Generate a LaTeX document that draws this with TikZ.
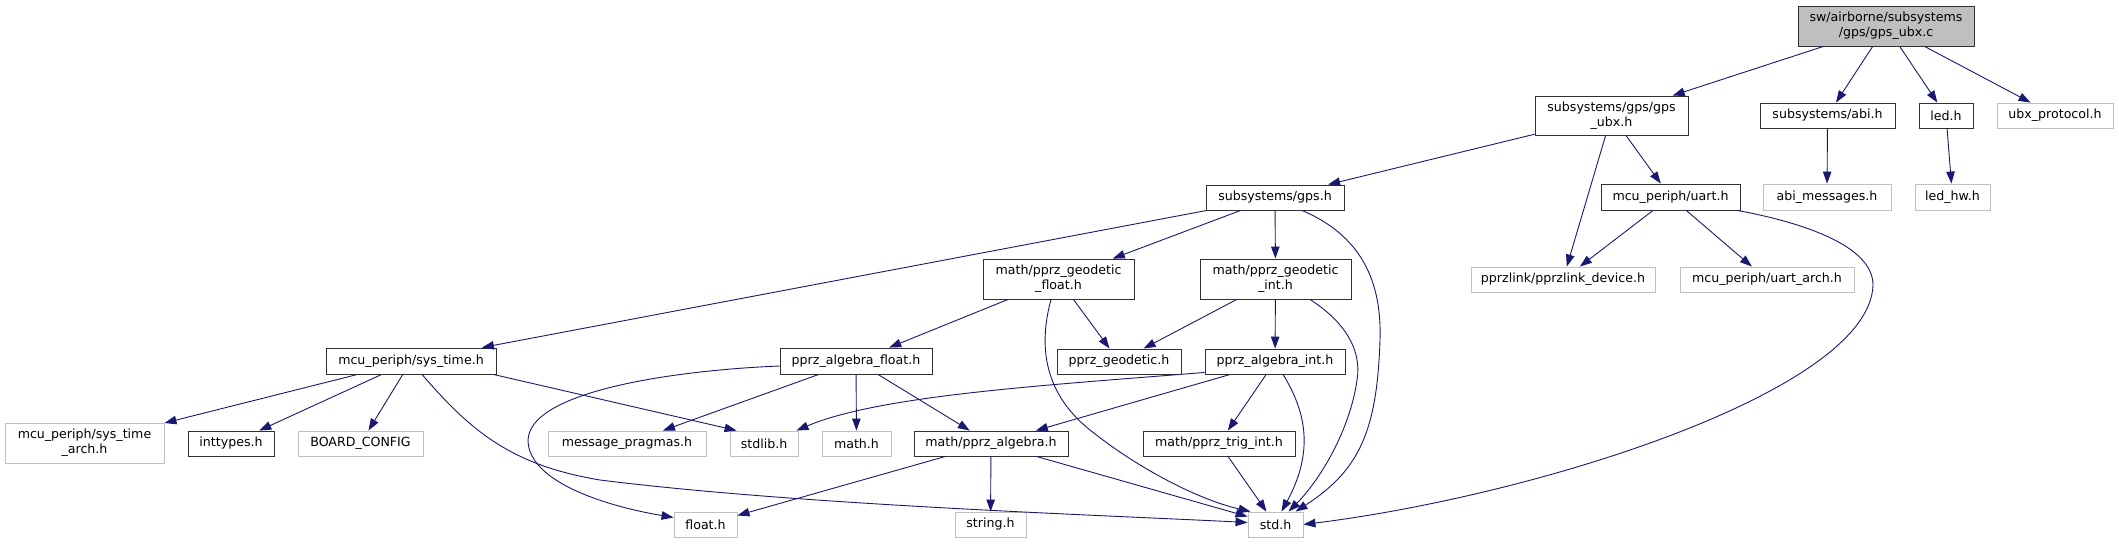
\documentclass[tikz,border=0pt]{standalone}
\usepackage{fontspec}
\setmainfont{DejaVu Sans}
\usepackage{tikz}
\usetikzlibrary{arrows.meta}
\definecolor{EdgeBlue}{HTML}{191970}
\definecolor{SysGray}{HTML}{BFBFBF}
\definecolor{RootGray}{HTML}{BFBFBF}
\definecolor{HdrBorder}{HTML}{303030}

\tikzset{
  hdr/.style={draw=HdrBorder, line width=0.9pt, fill=white, inner sep=0pt, align=center,
    font=\fontsize{12.6}{15}\selectfont},
  syshdr/.style={hdr, draw=SysGray},
  rootfile/.style={hdr, fill=RootGray},
  dep/.style={draw=EdgeBlue, line width=0.9pt, -{Triangle[length=12pt, width=8.5pt]}},
}

\begin{document}
\begin{tikzpicture}[x=1pt, y=-1pt]
  % Canvas
  \useasboundingbox (0,0) rectangle (2119,544);
  \fill[white] (0,0) rectangle (2119,544);

  % Top rows
  \node[rootfile, minimum width=176pt, minimum height=40pt] (gps_ubx_c) at (1886,26) {sw/airborne/subsystems\\/gps/gps\_ubx.c};
  \node[hdr, minimum width=153pt, minimum height=39pt] (gps_ubx_h) at (1611.5,115.5) {subsystems/gps/gps\\\_ubx.h};
  \node[hdr, minimum width=135pt, minimum height=25pt] (abi_h) at (1827.5,115.5) {subsystems/abi.h};
  \node[hdr, minimum width=54pt, minimum height=25pt] (led_h) at (1946,115.5) {led.h};
  \node[syshdr, minimum width=116pt, minimum height=25pt] (ubx_protocol_h) at (2055,115.5) {ubx\_protocol.h};
  \node[hdr, minimum width=138pt, minimum height=25pt] (gps_h) at (1275,197.5) {subsystems/gps.h};
  \node[hdr, minimum width=139pt, minimum height=26pt] (uart_h) at (1670.5,197) {mcu\_periph/uart.h};
  \node[syshdr, minimum width=128pt, minimum height=26pt] (abi_messages_h) at (1827,197) {abi\_messages.h};
  \node[syshdr, minimum width=75pt, minimum height=26pt] (led_hw_h) at (1952.5,197) {led\_hw.h};

  % Middle rows
  \node[hdr, minimum width=151pt, minimum height=40pt] (geodetic_float_h) at (1058.5,279) {math/pprz\_geodetic\\\_float.h};
  \node[hdr, minimum width=151pt, minimum height=40pt] (geodetic_int_h) at (1275.5,279) {math/pprz\_geodetic\\\_int.h};
  \node[syshdr, minimum width=184pt, minimum height=25pt] (pprzlink_device_h) at (1563,279.5) {pprzlink/pprzlink\_device.h};
  \node[syshdr, minimum width=174pt, minimum height=25pt] (uart_arch_h) at (1767,279.5) {mcu\_periph/uart\_arch.h};
  \node[hdr, minimum width=170pt, minimum height=26pt] (sys_time_h) at (411,361) {mcu\_periph/sys\_time.h};
  \node[hdr, minimum width=152pt, minimum height=26pt] (algebra_float_h) at (856,361) {pprz\_algebra\_float.h};
  \node[hdr, minimum width=124pt, minimum height=25pt] (pprz_geodetic_h) at (1119,361.5) {pprz\_geodetic.h};
  \node[hdr, minimum width=140pt, minimum height=25pt] (algebra_int_h) at (1275,361.5) {pprz\_algebra\_int.h};

  % Bottom rows
  \node[syshdr, minimum width=159pt, minimum height=40pt] (sys_time_arch_h) at (84.5,443) {mcu\_periph/sys\_time\\\_arch.h};
  \node[hdr, minimum width=86pt, minimum height=25pt] (inttypes_h) at (231,443.5) {inttypes.h};
  \node[syshdr, minimum width=125pt, minimum height=25pt] (board_config) at (360.5,443.5) {BOARD\_CONFIG};
  \node[syshdr, minimum width=158pt, minimum height=25pt] (message_pragmas_h) at (627,443.5) {message\_pragmas.h};
  \node[syshdr, minimum width=68pt, minimum height=25pt] (stdlib_h) at (764,443.5) {stdlib.h};
  \node[syshdr, minimum width=69pt, minimum height=25pt] (math_h) at (856.5,443.5) {math.h};
  \node[hdr, minimum width=154pt, minimum height=25pt] (algebra_h) at (991,443.5) {math/pprz\_algebra.h};
  \node[hdr, minimum width=152pt, minimum height=25pt] (trig_int_h) at (1219,443.5) {math/pprz\_trig\_int.h};
  \node[syshdr, minimum width=63pt, minimum height=25pt] (float_h) at (705.5,524.5) {float.h};
  \node[syshdr, minimum width=71pt, minimum height=25pt] (string_h) at (990.5,524.5) {string.h};
  \node[syshdr, minimum width=55pt, minimum height=25pt] (std_h) at (1275.5,524.5) {std.h};

  % Straight includes
  \draw[dep] (gps_ubx_c) -- (gps_ubx_h);
  \draw[dep] (gps_ubx_c) -- (abi_h);
  \draw[dep] (gps_ubx_c) -- (led_h);
  \draw[dep] (gps_ubx_c) -- (ubx_protocol_h);
  \draw[dep] (gps_ubx_h) -- (gps_h);
  \draw[dep] (gps_ubx_h) -- (pprzlink_device_h);
  \draw[dep] (gps_ubx_h) -- (uart_h);
  \draw[dep] (abi_h) -- (abi_messages_h);
  \draw[dep] (led_h) -- (led_hw_h);
  \draw[dep] (uart_h) -- (pprzlink_device_h);
  \draw[dep] (uart_h) -- (uart_arch_h);
  \draw[dep] (gps_h) -- (sys_time_h);
  \draw[dep] (gps_h) -- (geodetic_float_h);
  \draw[dep] (gps_h) -- (geodetic_int_h);
  \draw[dep] (geodetic_float_h) -- (algebra_float_h);
  \draw[dep] (geodetic_float_h) -- (pprz_geodetic_h);
  \draw[dep] (geodetic_int_h) -- (pprz_geodetic_h);
  \draw[dep] (geodetic_int_h) -- (algebra_int_h);
  \draw[dep] (sys_time_h) -- (sys_time_arch_h);
  \draw[dep] (sys_time_h) -- (inttypes_h);
  \draw[dep] (sys_time_h) -- (board_config);
  \draw[dep] ([xshift=-3pt]sys_time_h.south east) -- ([xshift=7pt]stdlib_h.north west);
  \draw[dep] (algebra_float_h) -- (message_pragmas_h);
  \draw[dep] (algebra_float_h) -- (math_h);
  \draw[dep] (algebra_float_h) -- (algebra_h);
  \draw[dep] (algebra_int_h) -- (algebra_h);
  \draw[dep] (algebra_int_h) -- (trig_int_h);
  \draw[dep] (algebra_h) -- (float_h);
  \draw[dep] (algebra_h) -- (string_h);
  \draw[dep] (algebra_h) -- (std_h);
  \draw[dep] (trig_int_h) -- (std_h);

  % Curved includes
  \draw[dep] ([xshift=27pt]gps_h.south) .. controls (1360,235) and (1382,280) .. (1380,340)
    .. controls (1377,430) and (1360,470) .. ([xshift=20pt]std_h.north);
  \draw[dep] ([xshift=-7.5pt]geodetic_float_h.south) .. controls (1040,340) and (1040,390) .. (1090,430)
    .. controls (1140,470) and (1200,500) .. ([xshift=3pt]std_h.north west);
  \draw[dep] ([xshift=34.5pt]geodetic_int_h.south) .. controls (1345,322) and (1362,350) .. (1357,380)
    .. controls (1350,430) and (1320,480) .. ([xshift=13pt]std_h.north);
  \draw[dep] ([xshift=8pt]algebra_int_h.south) .. controls (1305,410) and (1315,450) .. ([xshift=6pt]std_h.north);
  \draw[dep] ([xshift=-3pt]uart_h.south east) .. controls (1800,222) and (1873,245) .. (1873,285)
    .. controls (1870,390) and (1540,495) .. (std_h.east);
  \draw[dep] ([xshift=11pt]sys_time_h.south) .. controls (470,430) and (510,465) .. (600,480)
    .. controls (800,505) and (1100,515) .. ([yshift=2pt]std_h.west);
  \draw[dep] ([yshift=-5pt]algebra_float_h.west) .. controls (680,370) and (530,390) .. (528,440)
    .. controls (528,480) and (600,505) .. ([yshift=7pt]float_h.west);
  \draw[dep] ([yshift=2pt]algebra_int_h.south west) .. controls (1050,385) and (880,395) .. ([xshift=-2pt]stdlib_h.north east);
\end{tikzpicture}
\end{document}
